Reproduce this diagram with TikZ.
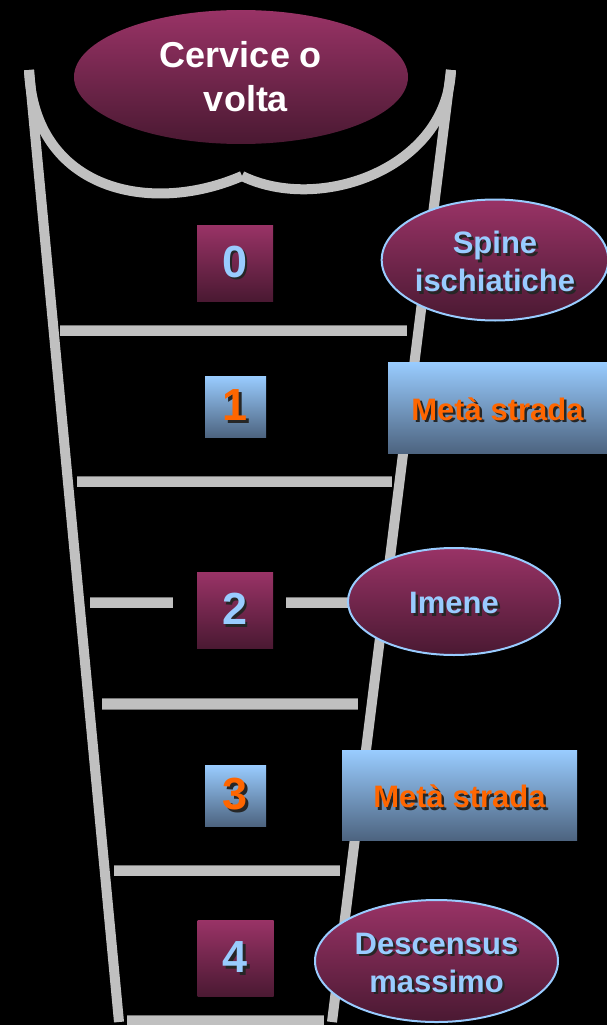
\documentclass[tikz,border=0pt]{standalone}
\usepackage{fontspec}
\setmainfont{Liberation Sans}
\usetikzlibrary{shapes.geometric}

\definecolor{plumtop}{RGB}{153,51,102}
\definecolor{plumbot}{RGB}{74,25,50}
\definecolor{skytop}{RGB}{153,204,255}
\definecolor{skybot}{RGB}{77,100,128}
\definecolor{paleblue}{RGB}{153,204,255}
\definecolor{flame}{RGB}{255,102,0}
\definecolor{railgray}{RGB}{192,192,192}
\definecolor{railedge}{RGB}{120,120,120}

% text with a dark drop shadow
\newcommand\shadowed[2]{\leavevmode\rlap{\kern2.5pt\raisebox{-2.5pt}{\color{black!85}#2}}{\color{#1}#2}}
% the same, set a little lower inside its line box
\newcommand\lowshadowed[2]{\raisebox{-3pt}[\height][\depth]{\shadowed{#1}{#2}}}

\tikzset{
  wall/.style={draw=railgray, line width=10pt, line cap=butt},
  bar/.style={draw=railedge, line width=0.8pt, double=railgray, double distance=10pt, line cap=butt},
  plumbox/.style={rectangle, top color=plumtop, bottom color=plumbot, draw=none,
    minimum width=76pt, minimum height=76pt, inner sep=0pt,
    font=\fontsize{45}{54}\selectfont\bfseries},
  skybox/.style={rectangle, top color=skytop, bottom color=skybot, draw=none,
    minimum width=61pt, minimum height=61pt, inner sep=0pt,
    font=\fontsize{45}{54}\selectfont\bfseries},
  tagbox/.style={rectangle, top color=skytop, bottom color=skybot, draw=none,
    inner sep=0pt, font=\fontsize{31}{37}\selectfont\bfseries},
  plumoval/.style={ellipse, top color=plumtop, bottom color=plumbot,
    draw=paleblue, line width=2pt, inner sep=0pt, align=center,
    font=\fontsize{31}{38}\selectfont\bfseries},
  capoval/.style={ellipse, top color=plumtop, bottom color=plumbot,
    draw=none, inner sep=0pt, align=center, text=white,
    font=\fontsize{36}{44}\selectfont\bfseries},
}

\begin{document}
\begin{tikzpicture}[x=1pt,y=-1pt]
\path[fill=black, use as bounding box] (0,0) rectangle (607,1025);

% outline of the canal
\coordinate (lt) at (29,70);
\coordinate (lb) at (119,1022);
\coordinate (rt) at (451,70);
\coordinate (rb) at (332,1022);
\coordinate (cusp) at (242,176);
\draw[wall] (lt) .. controls (34,190) and (150,216) .. (cusp);
\draw[wall] (cusp) .. controls (320,214) and (447,168) .. (rt);
\draw[wall] (lt) -- (lb);
\draw[wall] (rt) -- (rb);

% level bars
\coordinate (b0l) at (60,330.5);  \coordinate (b0r) at (407,330.5);
\coordinate (b1l) at (77,481.5);  \coordinate (b1r) at (392,481.5);
\coordinate (b2l) at (90,602.5);  \coordinate (b2m) at (173,602.5);
\coordinate (b2n) at (286,602.5); \coordinate (b2r) at (352,602.5);
\coordinate (b3l) at (102,704);   \coordinate (b3r) at (358,704);
\coordinate (b4l) at (114,870.5); \coordinate (b4r) at (340,870.5);
\coordinate (b5l) at (127,1021);  \coordinate (b5r) at (324,1021);
\draw[bar] (b0l) -- (b0r);
\draw[bar] (b1l) -- (b1r);
\draw[bar] (b2l) -- (b2m);
\draw[bar] (b2n) -- (b2r);
\draw[bar] (b3l) -- (b3r);
\draw[bar] (b4l) -- (b4r);
\draw[bar] (b5l) -- (b5r);

% station numbers
\node[plumbox] (n0) at (235,263)     {\shadowed{paleblue}{0}};
\node[skybox]  (n1) at (235.5,406.5) {\shadowed{flame}{1}};
\node[plumbox] (n2) at (235,610.5)   {\shadowed{paleblue}{2}};
\node[skybox]  (n3) at (235.5,795.5) {\shadowed{flame}{3}};
\node[plumbox] (n4) at (235.5,958.5) {\shadowed{paleblue}{4}};

% landmarks
\node[capoval, minimum width=334pt, minimum height=134pt] (cerv) at (241,77)
  {Cervice o\\\hspace*{10pt}volta};
\node[plumoval, minimum width=224pt, minimum height=121pt] (spine) at (495,260)
  {\lowshadowed{paleblue}{Spine}\\\lowshadowed{paleblue}{ischiatiche}};
\node[tagbox, minimum width=219pt, minimum height=91pt] (half1) at (497.5,407.5)
  {\lowshadowed{flame}{Metà strada}};
\node[plumoval, minimum width=212pt, minimum height=107pt] (imene) at (454,601.5)
  {\lowshadowed{paleblue}{Imene}};
\node[tagbox, minimum width=235pt, minimum height=90pt] (half3) at (459.5,795)
  {\lowshadowed{flame}{Metà strada}};
\node[plumoval, minimum width=243pt, minimum height=122pt] (desc) at (436.5,961)
  {\lowshadowed{paleblue}{Descensus}\\\lowshadowed{paleblue}{massimo}};
\end{tikzpicture}
\end{document}
